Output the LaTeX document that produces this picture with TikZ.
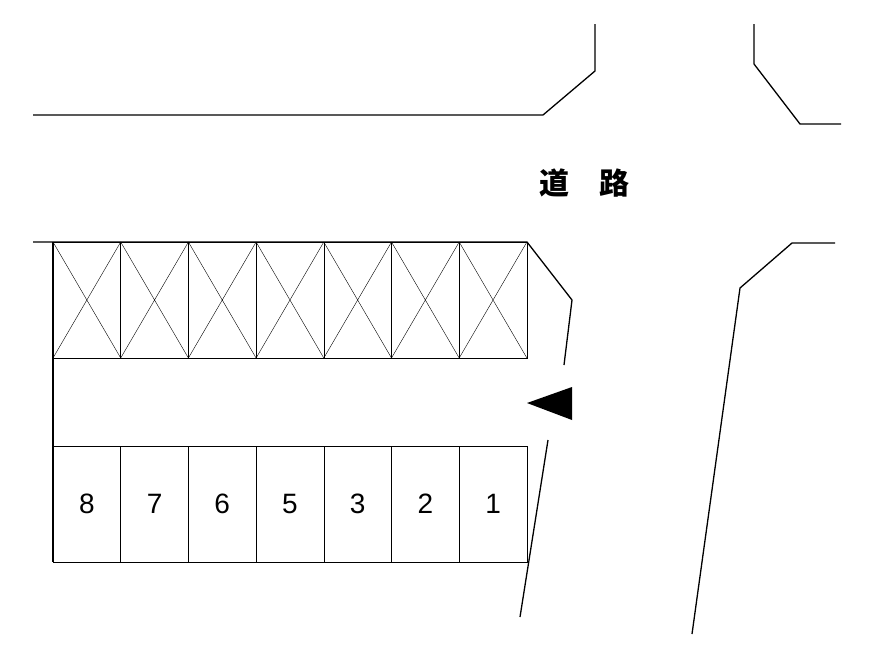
\documentclass[tikz,border=0pt]{standalone}
\usepackage{fontspec}
\newfontfamily\cjk{Noto Sans CJK JP}
\setmainfont{Liberation Sans}
\tikzset{edge/.style={line width=1.3pt},stall/.style={draw,line width=0.6pt}}
\begin{document}
\begin{tikzpicture}[x=1pt,y=-1pt]
		\useasboundingbox (0,0) rectangle (874,654);
		% road edges
		\draw[edge] (33,115) -- (543,115) -- (595,71) -- (595,24);
		\draw[edge] (754,24) -- (754,64) -- (800,124) -- (841,124);
		\draw[edge] (835,243) -- (792,243) -- (740,288) -- (692,634);
		\node at (584,183) {\cjk\bfseries\fontsize{30}{36}\selectfont 道\hspace{30pt}路};
		% lot
		\draw[edge] (33,242) -- (527,242) -- (572,300) -- (564,365);
		\draw[edge] (53,242) -- (53,562);
		\draw[edge] (548,440) -- (520,617);
		\fill (527,403) -- (572,387) -- (572,420) -- cycle;
		% stalls
		\foreach \i in {0,...,6} {
			\pgfmathsetmacro\xa{53+\i*67.7}
			\pgfmathsetmacro\xb{53+(\i+1)*67.7}
			\draw[stall] (\xa,242) rectangle (\xb,358);
			\draw[line width=0.4pt] (\xa,242) -- (\xb,358) (\xa,358) -- (\xb,242);
			\draw[stall] (\xa,446) rectangle (\xb,562);
		}
		\foreach \i/\n in {0/8,1/7,2/6,3/5,4/3,5/2,6/1}
			\node[font=\fontsize{28}{32}\selectfont] at (53+\i*67.7+33.85,504) {\n};
\end{tikzpicture}
\end{document}
